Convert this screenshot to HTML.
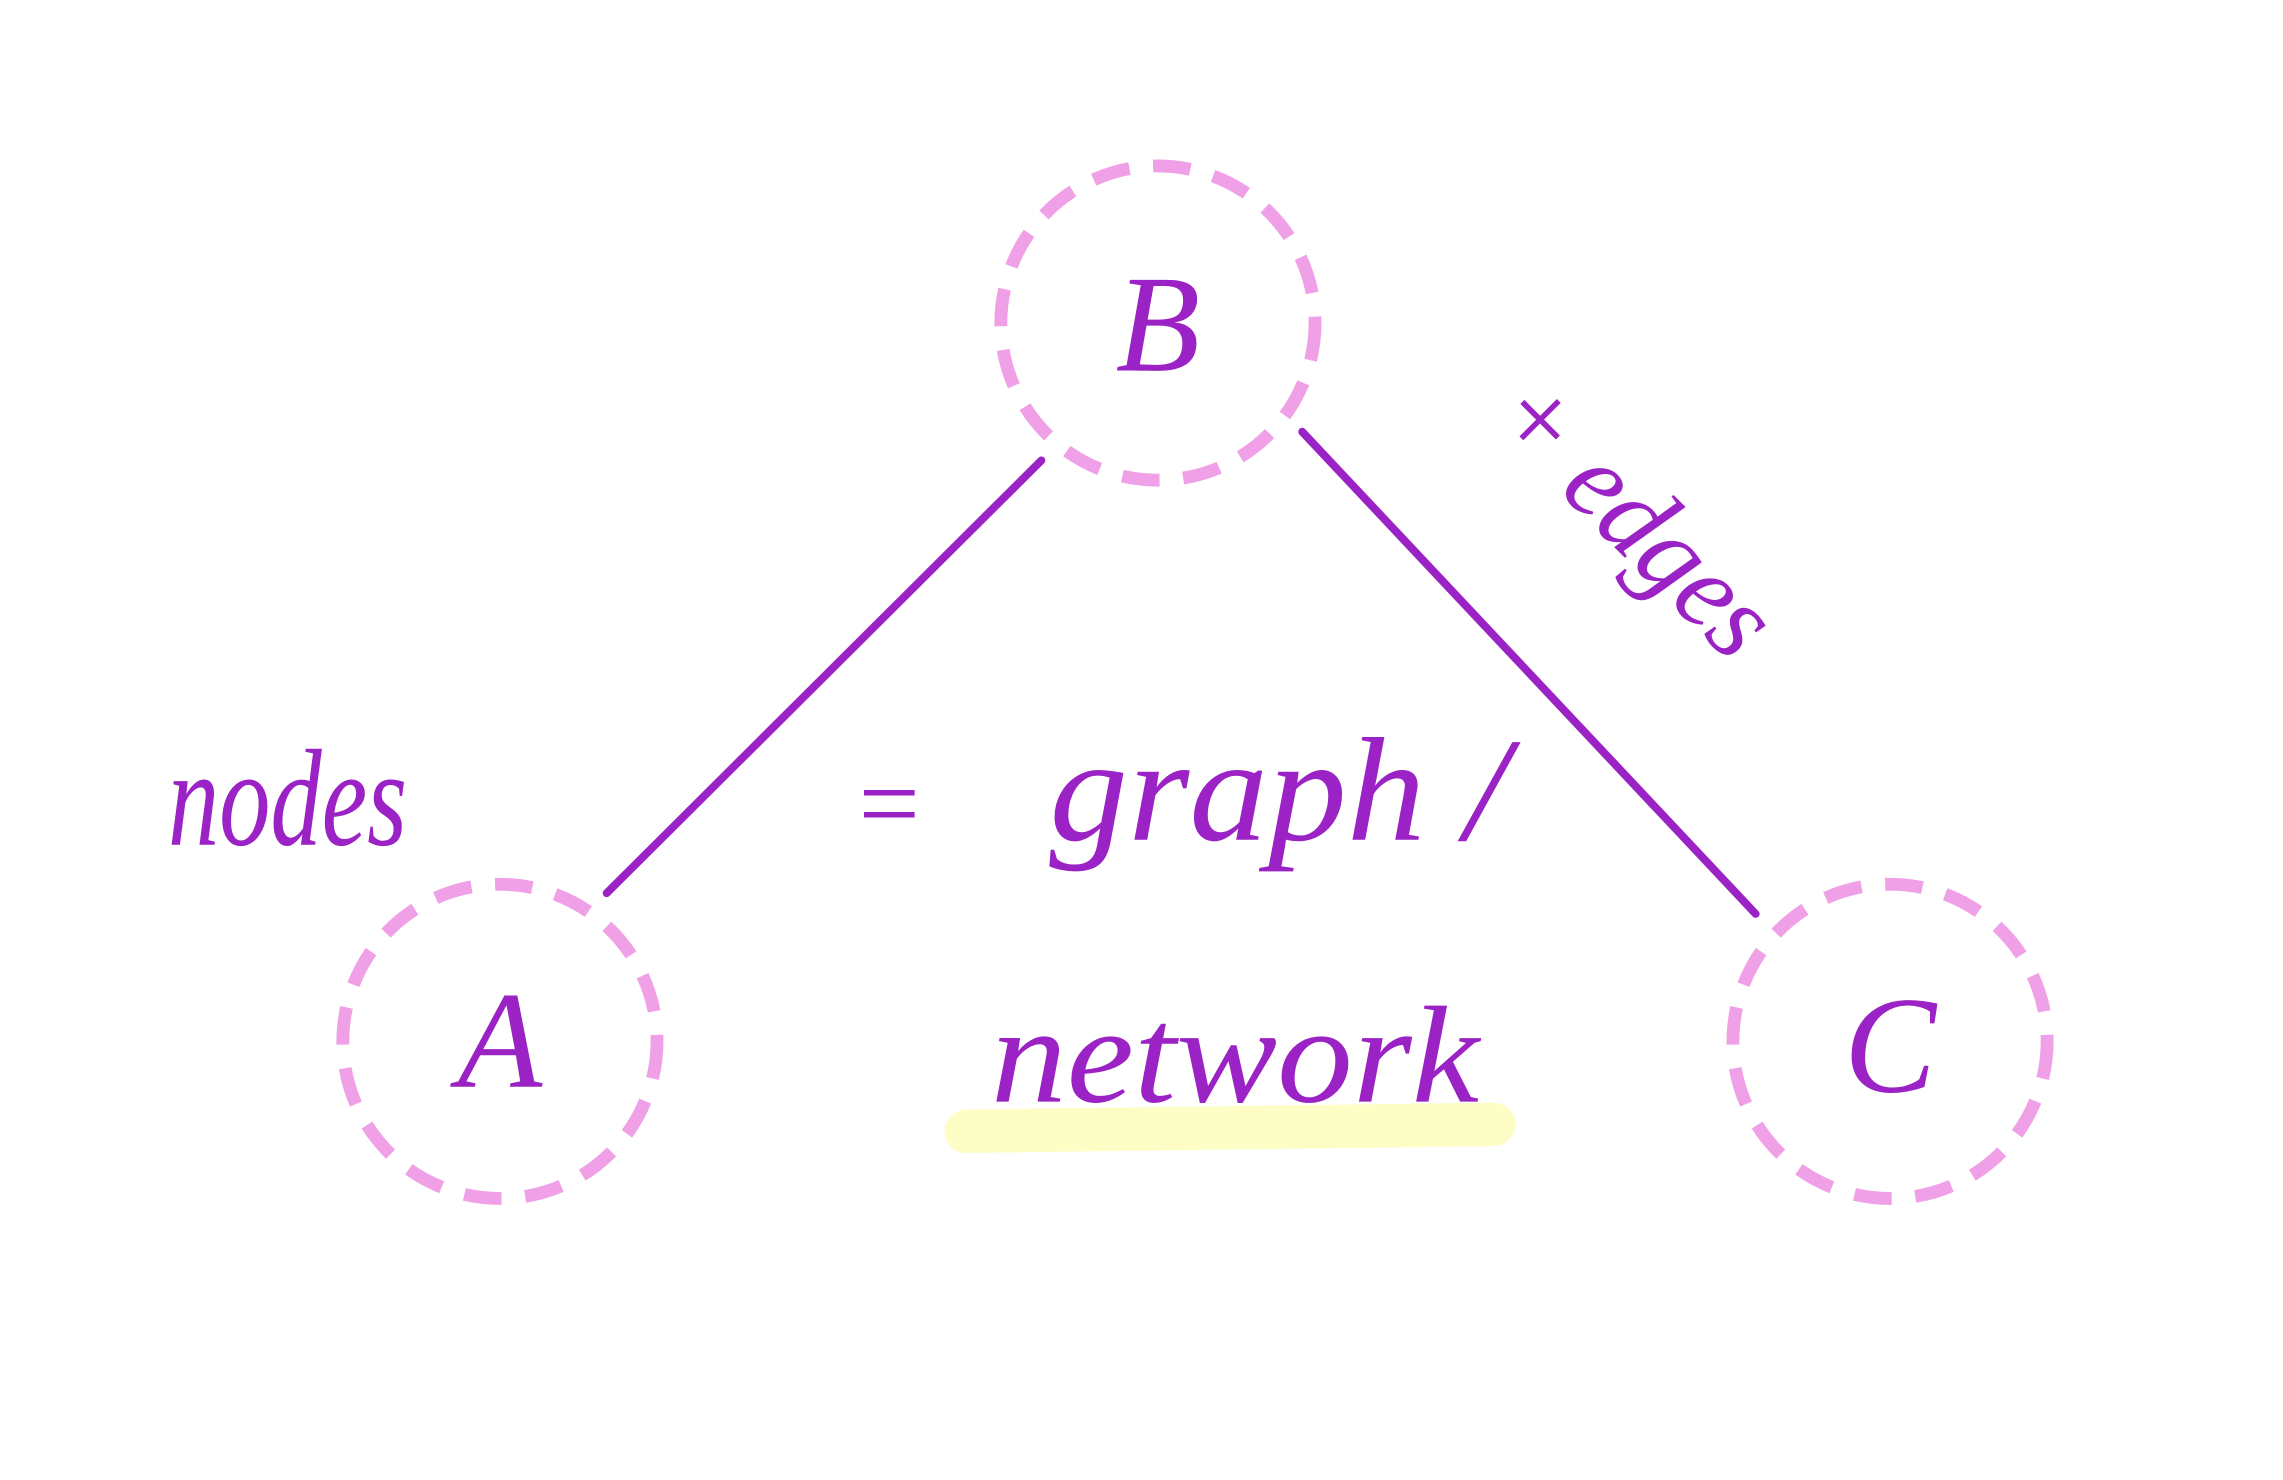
<!DOCTYPE html>
<html><head><meta charset="utf-8"><style>html,body{margin:0;padding:0;background:#fff;}svg{display:block}</style></head>
<body>
<svg width="2283" height="1480" viewBox="0 0 2283 1480" xmlns="http://www.w3.org/2000/svg">
<rect width="2283" height="1480" fill="#fff"/>
<g transform="scale(0.988)">
<g fill="none" stroke="#efa0e6" stroke-width="13" stroke-dasharray="38 24">
<circle cx="1172" cy="327" r="159"/>
<circle cx="506" cy="1054" r="159"/>
<circle cx="1913" cy="1054" r="159"/>
</g>
<line x1="978" y1="1145" x2="1512" y2="1138" stroke="#fdfdc6" stroke-width="44" stroke-linecap="round"/>
<g stroke="#9b22c4" stroke-width="8" stroke-linecap="round">
<line x1="1054" y1="466" x2="614" y2="904"/>
<line x1="1318" y1="437" x2="1777" y2="925"/>
</g>
<g fill="#9b22c4" font-family="'Liberation Serif', serif" font-style="italic">
<text x="1172" y="375" font-size="140" text-anchor="middle">B</text>
<text x="506" y="1100" font-size="140" text-anchor="middle">A</text>
<text x="1913" y="1105" font-size="140" text-anchor="middle">C</text>
<text x="170" y="855" font-size="140" textLength="242" lengthAdjust="spacingAndGlyphs">nodes</text>
<text x="862" y="850" font-size="110">=</text>
<text x="1062" y="850" font-size="150" textLength="465" lengthAdjust="spacingAndGlyphs">graph /</text>
<text x="1003" y="1115" font-size="140" textLength="494" lengthAdjust="spacingAndGlyphs">network</text>
<text x="1505" y="425" font-size="115" transform="rotate(45 1505 425)" textLength="350" lengthAdjust="spacingAndGlyphs">+ edges</text>
</g>
</g>
</svg>
</body></html>
